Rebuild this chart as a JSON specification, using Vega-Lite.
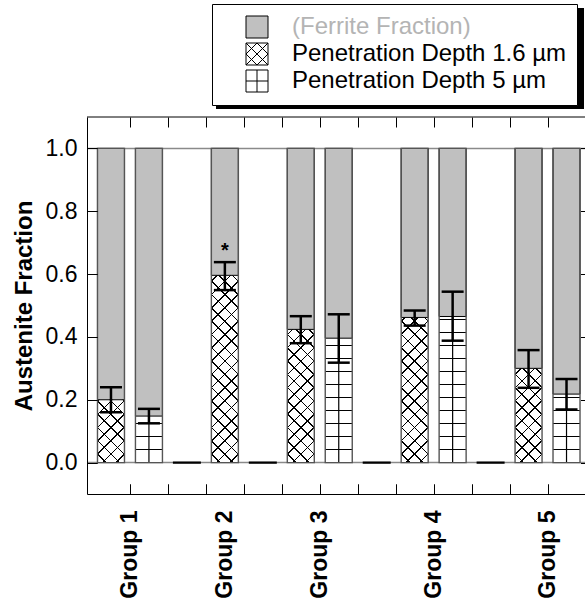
{
  "$schema": "https://vega.github.io/schema/vega-lite/v6.json",
  "width": 498,
  "height": 377,
  "autosize": {"type": "none"},
  "padding": {"left": 87, "top": 117, "right": 0, "bottom": 108},
  "background": "white",
  "config": {
    "view": {"stroke": null},
    "font": "Liberation Sans",
    "axis": {"grid": false, "domainColor": "black", "tickColor": "black", "labelColor": "black", "titleColor": "black", "labelFont": "Liberation Sans", "titleFont": "Liberation Sans", "domainWidth": 1, "tickWidth": 1}
  },
  "data": {"values": [
    {"slot": 1, "series": "cross", "value": 0.2, "total": 1, "lo": 0.16, "hi": 0.24},
    {"slot": 2, "series": "grid", "value": 0.148, "total": 1, "lo": 0.125, "hi": 0.171},
    {"slot": 3, "series": "none", "value": 0},
    {"slot": 4, "series": "cross", "value": 0.596, "total": 1, "lo": 0.549, "hi": 0.638, "note": "*"},
    {"slot": 5, "series": "none", "value": 0},
    {"slot": 6, "series": "cross", "value": 0.424, "total": 1, "lo": 0.38, "hi": 0.466},
    {"slot": 7, "series": "grid", "value": 0.396, "total": 1, "lo": 0.318, "hi": 0.472},
    {"slot": 8, "series": "none", "value": 0},
    {"slot": 9, "series": "cross", "value": 0.462, "total": 1, "lo": 0.436, "hi": 0.484},
    {"slot": 10, "series": "grid", "value": 0.465, "total": 1, "lo": 0.388, "hi": 0.544},
    {"slot": 11, "series": "none", "value": 0},
    {"slot": 12, "series": "cross", "value": 0.3, "total": 1, "lo": 0.238, "hi": 0.358},
    {"slot": 13, "series": "grid", "value": 0.218, "total": 1, "lo": 0.169, "hi": 0.266}
  ]},
  "layer": [
    {
      "transform": [{"filter": "datum.series !== 'none'"}],
      "mark": {"type": "bar", "width": 27, "fill": "white", "fillOpacity": 0, "strokeWidth": 0},
      "encoding": {
        "x": {"field": "slot", "type": "quantitative", "scale": {"domain": [0.5, 13.5], "range": [0, 503.5], "nice": false, "zero": false},
          "axis": {"orient": "bottom", "values": [1.5, 2.5, 3.5, 4.5, 5.5, 6.5, 7.5, 8.5, 9.5, 10.5, 11.5, 12.5, 4],
            "labelExpr": "datum.value == 1.5 ? 'Group 1' : datum.value == 4 ? 'Group 2' : datum.value == 6.5 ? 'Group 3' : datum.value == 9.5 ? 'Group 4' : datum.value == 12.5 ? 'Group 5' : ''",
            "labelAngle": -90, "labelAlign": "right", "labelBaseline": "middle", "labelFontSize": 23, "labelFontWeight": "bold",
            "labelPadding": 26, "labelFlush": false, "labelOverlap": false, "labelBound": false, "tickSize": -10,
            "tickOpacity": {"condition": {"test": "datum.value == 4", "value": 0}, "value": 1},
            "grid": true, "gridColor": "black", "gridWidth": 1, "gridDash": [10, 357, 10],
            "gridOpacity": {"condition": {"test": "datum.value == 4", "value": 0}, "value": 1},
            "zindex": 2, "title": null}},
        "y": {"field": "total", "type": "quantitative", "scale": {"domain": [-0.1, 1.1], "nice": false, "zero": false},
          "axis": {"orient": "left", "values": [0, 0.2, 0.4, 0.6, 0.8, 1], "format": ".1f", "labelFontSize": 23, "labelPadding": 20,
            "labelFlush": false, "tickSize": -10, "grid": true, "gridColor": "black", "gridWidth": 1, "gridDash": [10, 483.5, 10], "zindex": 2,
            "title": "Austenite Fraction", "titleFontSize": 24, "titleFontWeight": "bold", "titlePadding": 9}}
      }
    },
    {
      "data": {"values": [{"ref": 0}, {"ref": 1}]},
      "mark": {"type": "rule", "color": "#8a8a8a", "strokeWidth": 1.5},
      "encoding": {
        "y": {"field": "ref", "type": "quantitative"}
      }
    },
    {
      "data": {"values": [{"edge": 1.1}]},
      "mark": {"type": "rule", "color": "black", "strokeWidth": 1},
      "encoding": {
        "y": {"field": "edge", "type": "quantitative"}
      }
    },
    {
      "transform": [{"filter": "datum.series === 'cross'"}],
      "mark": {"type": "bar", "width": 27, "strokeWidth": 0, "fill": {"gradient": "linear", "x1": 0, "y1": 0, "x2": 0.09263, "y2": 1.07799, "stops": [
        {"offset": 0, "color": "white"},
        {"offset": 0.3485, "color": "white"}, {"offset": 0.3485, "color": "black"}, {"offset": 0.3531, "color": "black"}, {"offset": 0.3531, "color": "white"},
        {"offset": 0.3875, "color": "white"}, {"offset": 0.3875, "color": "black"}, {"offset": 0.3921, "color": "black"}, {"offset": 0.3921, "color": "white"},
        {"offset": 0.4265, "color": "white"}, {"offset": 0.4265, "color": "black"}, {"offset": 0.4311, "color": "black"}, {"offset": 0.4311, "color": "white"},
        {"offset": 0.4655, "color": "white"}, {"offset": 0.4655, "color": "black"}, {"offset": 0.4701, "color": "black"}, {"offset": 0.4701, "color": "white"},
        {"offset": 0.5044, "color": "white"}, {"offset": 0.5044, "color": "black"}, {"offset": 0.509, "color": "black"}, {"offset": 0.509, "color": "white"},
        {"offset": 0.5434, "color": "white"}, {"offset": 0.5434, "color": "black"}, {"offset": 0.548, "color": "black"}, {"offset": 0.548, "color": "white"},
        {"offset": 0.5824, "color": "white"}, {"offset": 0.5824, "color": "black"}, {"offset": 0.587, "color": "black"}, {"offset": 0.587, "color": "white"},
        {"offset": 0.6214, "color": "white"}, {"offset": 0.6214, "color": "black"}, {"offset": 0.626, "color": "black"}, {"offset": 0.626, "color": "white"},
        {"offset": 0.6604, "color": "white"}, {"offset": 0.6604, "color": "black"}, {"offset": 0.665, "color": "black"}, {"offset": 0.665, "color": "white"},
        {"offset": 0.6993, "color": "white"}, {"offset": 0.6993, "color": "black"}, {"offset": 0.7039, "color": "black"}, {"offset": 0.7039, "color": "white"},
        {"offset": 0.7383, "color": "white"}, {"offset": 0.7383, "color": "black"}, {"offset": 0.7429, "color": "black"}, {"offset": 0.7429, "color": "white"},
        {"offset": 0.7773, "color": "white"}, {"offset": 0.7773, "color": "black"}, {"offset": 0.7819, "color": "black"}, {"offset": 0.7819, "color": "white"},
        {"offset": 0.8163, "color": "white"}, {"offset": 0.8163, "color": "black"}, {"offset": 0.8209, "color": "black"}, {"offset": 0.8209, "color": "white"},
        {"offset": 0.8553, "color": "white"}, {"offset": 0.8553, "color": "black"}, {"offset": 0.8599, "color": "black"}, {"offset": 0.8599, "color": "white"},
        {"offset": 0.8942, "color": "white"}, {"offset": 0.8942, "color": "black"}, {"offset": 0.8988, "color": "black"}, {"offset": 0.8988, "color": "white"},
        {"offset": 0.9332, "color": "white"}, {"offset": 0.9332, "color": "black"}, {"offset": 0.9378, "color": "black"}, {"offset": 0.9378, "color": "white"},
        {"offset": 0.9722, "color": "white"}, {"offset": 0.9722, "color": "black"}, {"offset": 0.9768, "color": "black"}, {"offset": 0.9768, "color": "white"},
        {"offset": 1, "color": "white"}
      ]}},
      "encoding": {
        "x": {"field": "slot", "type": "quantitative"},
        "y": {"field": "total", "type": "quantitative"}
      }
    },
    {
      "transform": [{"filter": "datum.series === 'cross'"}],
      "mark": {"type": "bar", "width": 27, "strokeWidth": 0, "fill": {"gradient": "linear", "x1": 1, "y1": 0, "x2": 0.90737, "y2": 1.07799, "stops": [
        {"offset": 0, "color": "rgba(0,0,0,0)"},
        {"offset": 0.3485, "color": "rgba(0,0,0,0)"}, {"offset": 0.3485, "color": "black"}, {"offset": 0.3531, "color": "black"}, {"offset": 0.3531, "color": "rgba(0,0,0,0)"},
        {"offset": 0.3875, "color": "rgba(0,0,0,0)"}, {"offset": 0.3875, "color": "black"}, {"offset": 0.3921, "color": "black"}, {"offset": 0.3921, "color": "rgba(0,0,0,0)"},
        {"offset": 0.4265, "color": "rgba(0,0,0,0)"}, {"offset": 0.4265, "color": "black"}, {"offset": 0.4311, "color": "black"}, {"offset": 0.4311, "color": "rgba(0,0,0,0)"},
        {"offset": 0.4655, "color": "rgba(0,0,0,0)"}, {"offset": 0.4655, "color": "black"}, {"offset": 0.4701, "color": "black"}, {"offset": 0.4701, "color": "rgba(0,0,0,0)"},
        {"offset": 0.5044, "color": "rgba(0,0,0,0)"}, {"offset": 0.5044, "color": "black"}, {"offset": 0.509, "color": "black"}, {"offset": 0.509, "color": "rgba(0,0,0,0)"},
        {"offset": 0.5434, "color": "rgba(0,0,0,0)"}, {"offset": 0.5434, "color": "black"}, {"offset": 0.548, "color": "black"}, {"offset": 0.548, "color": "rgba(0,0,0,0)"},
        {"offset": 0.5824, "color": "rgba(0,0,0,0)"}, {"offset": 0.5824, "color": "black"}, {"offset": 0.587, "color": "black"}, {"offset": 0.587, "color": "rgba(0,0,0,0)"},
        {"offset": 0.6214, "color": "rgba(0,0,0,0)"}, {"offset": 0.6214, "color": "black"}, {"offset": 0.626, "color": "black"}, {"offset": 0.626, "color": "rgba(0,0,0,0)"},
        {"offset": 0.6604, "color": "rgba(0,0,0,0)"}, {"offset": 0.6604, "color": "black"}, {"offset": 0.665, "color": "black"}, {"offset": 0.665, "color": "rgba(0,0,0,0)"},
        {"offset": 0.6993, "color": "rgba(0,0,0,0)"}, {"offset": 0.6993, "color": "black"}, {"offset": 0.7039, "color": "black"}, {"offset": 0.7039, "color": "rgba(0,0,0,0)"},
        {"offset": 0.7383, "color": "rgba(0,0,0,0)"}, {"offset": 0.7383, "color": "black"}, {"offset": 0.7429, "color": "black"}, {"offset": 0.7429, "color": "rgba(0,0,0,0)"},
        {"offset": 0.7773, "color": "rgba(0,0,0,0)"}, {"offset": 0.7773, "color": "black"}, {"offset": 0.7819, "color": "black"}, {"offset": 0.7819, "color": "rgba(0,0,0,0)"},
        {"offset": 0.8163, "color": "rgba(0,0,0,0)"}, {"offset": 0.8163, "color": "black"}, {"offset": 0.8209, "color": "black"}, {"offset": 0.8209, "color": "rgba(0,0,0,0)"},
        {"offset": 0.8553, "color": "rgba(0,0,0,0)"}, {"offset": 0.8553, "color": "black"}, {"offset": 0.8599, "color": "black"}, {"offset": 0.8599, "color": "rgba(0,0,0,0)"},
        {"offset": 0.8942, "color": "rgba(0,0,0,0)"}, {"offset": 0.8942, "color": "black"}, {"offset": 0.8988, "color": "black"}, {"offset": 0.8988, "color": "rgba(0,0,0,0)"},
        {"offset": 0.9332, "color": "rgba(0,0,0,0)"}, {"offset": 0.9332, "color": "black"}, {"offset": 0.9378, "color": "black"}, {"offset": 0.9378, "color": "rgba(0,0,0,0)"},
        {"offset": 0.9722, "color": "rgba(0,0,0,0)"}, {"offset": 0.9722, "color": "black"}, {"offset": 0.9768, "color": "black"}, {"offset": 0.9768, "color": "rgba(0,0,0,0)"},
        {"offset": 1, "color": "rgba(0,0,0,0)"}
      ]}},
      "encoding": {
        "x": {"field": "slot", "type": "quantitative"},
        "y": {"field": "total", "type": "quantitative"}
      }
    },
    {
      "transform": [{"filter": "datum.series === 'grid'"}],
      "mark": {"type": "bar", "width": 27, "strokeWidth": 0, "fill": {"gradient": "linear", "x1": 0, "y1": 0, "x2": 0, "y2": 1, "stops": [
        {"offset": 0, "color": "white"},
        {"offset": 0.5016, "color": "white"}, {"offset": 0.5016, "color": "black"}, {"offset": 0.5054, "color": "black"}, {"offset": 0.5054, "color": "white"},
        {"offset": 0.543, "color": "white"}, {"offset": 0.543, "color": "black"}, {"offset": 0.5468, "color": "black"}, {"offset": 0.5468, "color": "white"},
        {"offset": 0.5844, "color": "white"}, {"offset": 0.5844, "color": "black"}, {"offset": 0.5882, "color": "black"}, {"offset": 0.5882, "color": "white"},
        {"offset": 0.6257, "color": "white"}, {"offset": 0.6257, "color": "black"}, {"offset": 0.6295, "color": "black"}, {"offset": 0.6295, "color": "white"},
        {"offset": 0.6671, "color": "white"}, {"offset": 0.6671, "color": "black"}, {"offset": 0.6709, "color": "black"}, {"offset": 0.6709, "color": "white"},
        {"offset": 0.7085, "color": "white"}, {"offset": 0.7085, "color": "black"}, {"offset": 0.7123, "color": "black"}, {"offset": 0.7123, "color": "white"},
        {"offset": 0.7499, "color": "white"}, {"offset": 0.7499, "color": "black"}, {"offset": 0.7537, "color": "black"}, {"offset": 0.7537, "color": "white"},
        {"offset": 0.7912, "color": "white"}, {"offset": 0.7912, "color": "black"}, {"offset": 0.795, "color": "black"}, {"offset": 0.795, "color": "white"},
        {"offset": 0.8326, "color": "white"}, {"offset": 0.8326, "color": "black"}, {"offset": 0.8364, "color": "black"}, {"offset": 0.8364, "color": "white"},
        {"offset": 0.874, "color": "white"}, {"offset": 0.874, "color": "black"}, {"offset": 0.8778, "color": "black"}, {"offset": 0.8778, "color": "white"},
        {"offset": 0.9154, "color": "white"}, {"offset": 0.9154, "color": "black"}, {"offset": 0.9192, "color": "black"}, {"offset": 0.9192, "color": "white"},
        {"offset": 0.9567, "color": "white"}, {"offset": 0.9567, "color": "black"}, {"offset": 0.9605, "color": "black"}, {"offset": 0.9605, "color": "white"},
        {"offset": 1, "color": "white"}
      ]}},
      "encoding": {
        "x": {"field": "slot", "type": "quantitative"},
        "y": {"field": "total", "type": "quantitative"}
      }
    },
    {
      "transform": [{"filter": "datum.series === 'grid'"}],
      "mark": {"type": "bar", "width": 1.2, "color": "black"},
      "encoding": {
        "x": {"field": "slot", "type": "quantitative"},
        "y": {"field": "value", "type": "quantitative"}
      }
    },
    {
      "transform": [{"filter": "datum.series !== 'none'"}],
      "mark": {"type": "bar", "width": 27, "fill": "#c0c0c0", "stroke": "black", "strokeWidth": 1},
      "encoding": {
        "x": {"field": "slot", "type": "quantitative"},
        "y": {"field": "value", "type": "quantitative"},
        "y2": {"field": "total"}
      }
    },
    {
      "transform": [{"filter": "datum.series !== 'none'"}],
      "mark": {"type": "bar", "width": 27, "fill": "white", "fillOpacity": 0, "stroke": "#555555", "strokeWidth": 1.4},
      "encoding": {
        "x": {"field": "slot", "type": "quantitative"},
        "y": {"field": "total", "type": "quantitative"}
      }
    },
    {
      "transform": [{"filter": "datum.series === 'none'"}],
      "mark": {"type": "bar", "width": 28, "fill": "black", "stroke": "black", "strokeWidth": 2.2},
      "encoding": {
        "x": {"field": "slot", "type": "quantitative"},
        "y": {"field": "value", "type": "quantitative"}
      }
    },
    {
      "transform": [{"filter": "datum.series !== 'none'"}],
      "mark": {"type": "rule", "strokeWidth": 2.5, "color": "black"},
      "encoding": {
        "x": {"field": "slot", "type": "quantitative"},
        "y": {"field": "lo", "type": "quantitative"},
        "y2": {"field": "hi"}
      }
    },
    {
      "transform": [{"filter": "datum.series !== 'none'"}],
      "mark": {"type": "tick", "orient": "horizontal", "size": 22, "thickness": 2.5, "color": "black", "opacity": 1},
      "encoding": {
        "x": {"field": "slot", "type": "quantitative"},
        "y": {"field": "lo", "type": "quantitative"}
      }
    },
    {
      "transform": [{"filter": "datum.series !== 'none'"}],
      "mark": {"type": "tick", "orient": "horizontal", "size": 22, "thickness": 2.5, "color": "black", "opacity": 1},
      "encoding": {
        "x": {"field": "slot", "type": "quantitative"},
        "y": {"field": "hi", "type": "quantitative"}
      }
    },
    {
      "transform": [{"filter": "datum.note"}],
      "mark": {"type": "text", "fontSize": 20, "fontWeight": "bold", "baseline": "alphabetic", "dy": -5, "color": "black"},
      "encoding": {
        "x": {"field": "slot", "type": "quantitative"},
        "y": {"field": "hi", "type": "quantitative"},
        "text": {"field": "note"}
      }
    },
    {
      "transform": [{"filter": "datum.series !== 'none'"}],
      "mark": {"type": "point", "opacity": 0},
      "encoding": {
        "stroke": {"field": "value", "type": "quantitative", "scale": {"range": ["black", "black"]},
          "legend": {"title": null, "orient": "none", "legendX": 129, "legendY": -109, "direction": "vertical", "gradientLength": 101, "gradientThickness": 368, "gradientStrokeColor": "black", "gradientStrokeWidth": 0, "padding": 0, "labelExpr": "''", "labelFontSize": 1, "labelOffset": 0, "zindex": 0}}
      }
    },
    {
      "data": {"values": [{"series": "(Ferrite Fraction)"}, {"series": "Penetration Depth 1.6 µm"}, {"series": "Penetration Depth 5 µm"}]},
      "mark": {"type": "point", "filled": true, "opacity": 0},
      "encoding": {
        "shape": {"field": "series", "type": "nominal",
          "scale": {"domain": ["(Ferrite Fraction)", "Penetration Depth 1.6 µm", "Penetration Depth 5 µm"],
            "range": ["M-1,-1H1V1H-1Z", "M-1,-1H1V1H-1Z M-1,-1L1,1 M-1,1L1,-1 M0,-1L1,0L0,1L-1,0Z", "M-1,-1H1V1H-1Z M0,-1V1 M-1,0H1"]},
          "legend": {"title": null, "orient": "none", "legendX": 125, "legendY": -113, "direction": "vertical", "labelFont": "Liberation Sans", "labelFontSize": 24, "labelLimit": 400, "labelOffset": 23, "symbolSize": 484, "symbolOpacity": 1, "padding": 11, "symbolOffset": 22, "rowPadding": 1, "strokeColor": "black", "fillColor": "white", "zindex": 1,
            "encode": {"symbols": {"update": {"stroke": {"value": "black"}, "strokeWidth": {"value": 1}}}, "labels": {"update": {"fill": [{"test": "datum.value === '(Ferrite Fraction)'", "value": "#b4b4b4"}, {"value": "black"}]}}}}},
        "fill": {"field": "series", "type": "nominal",
          "scale": {"domain": ["(Ferrite Fraction)", "Penetration Depth 1.6 µm", "Penetration Depth 5 µm"], "range": ["#c0c0c0", "white", "white"]},
          "legend": {"title": null, "orient": "none", "legendX": 125, "legendY": -113, "direction": "vertical", "labelFont": "Liberation Sans", "labelFontSize": 24, "labelLimit": 400, "labelOffset": 23, "symbolSize": 484, "symbolOpacity": 1, "padding": 11, "symbolOffset": 22, "rowPadding": 1, "strokeColor": "black", "fillColor": "white", "zindex": 1,
            "encode": {"symbols": {"update": {"stroke": {"value": "black"}, "strokeWidth": {"value": 1}}}, "labels": {"update": {"fill": [{"test": "datum.value === '(Ferrite Fraction)'", "value": "#b4b4b4"}, {"value": "black"}]}}}}}
      }
    }
  ]
}
